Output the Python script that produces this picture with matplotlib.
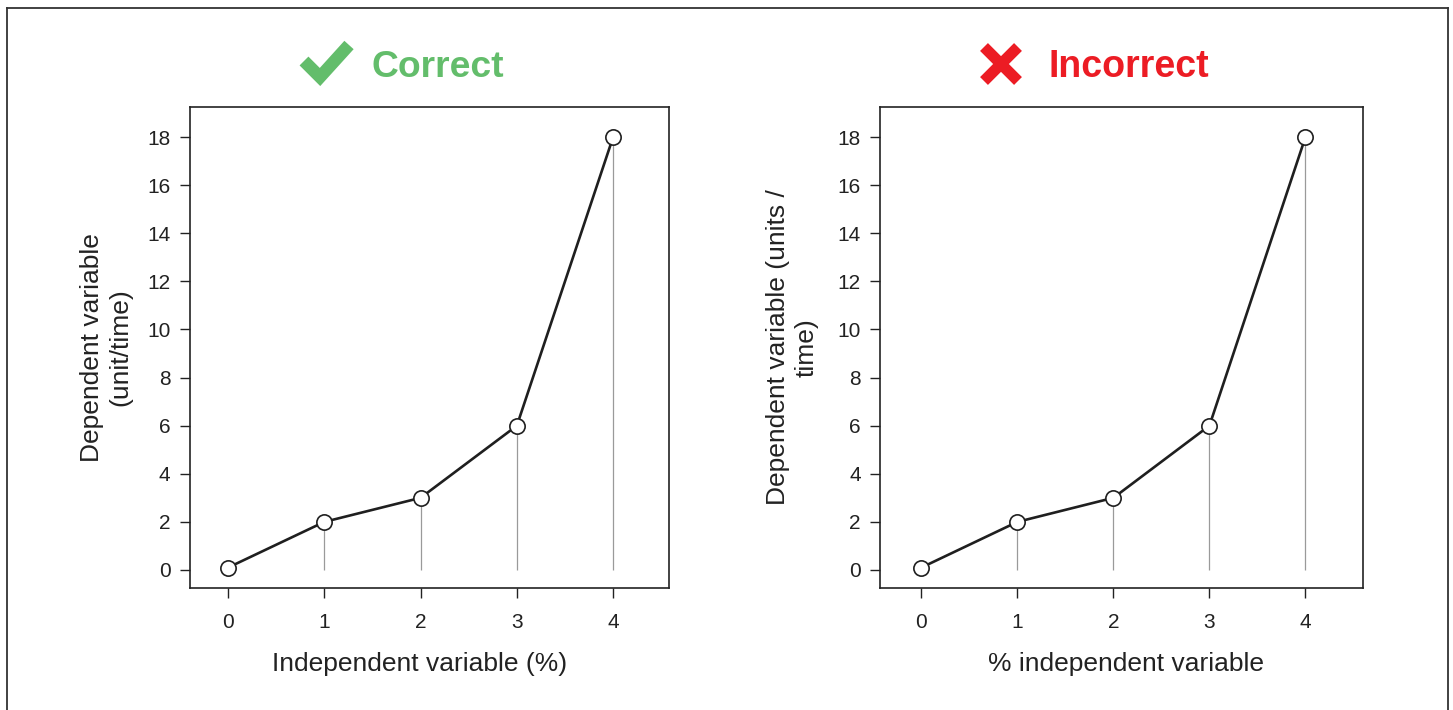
import numpy as np
import matplotlib.pyplot as plt
from matplotlib.lines import Line2D

plt.rcParams['font.family'] = ['Liberation Sans', 'DejaVu Sans']

# data
xs = [0, 1, 2, 3, 4]
ys = [0.1, 2, 3, 6, 18]
yticks = [0, 2, 4, 6, 8, 10, 12, 14, 16, 18]

titles = ["Correct", "Incorrect"]
title_colors = ["#63bd6b", "#ec1c24"]
xlabels = ["Independent variable (%)", "% independent variable"]
ylabels = ["Dependent variable\n(unit/time)", "Dependent variable (units /\ntime)"]

W, H = 1453, 710
fig = plt.figure(figsize=(W / 100, H / 100), dpi=100)


def px(x, y):
    # pixel position (from top-left) -> figure fraction
    return x / W, 1 - y / H


# outer frame (open at bottom)
frame_kw = dict(color="#333333", lw=1.3, transform=fig.transFigure)
fig.add_artist(Line2D([0.0048, 0.0048], [0, 0.9887], **frame_kw))
fig.add_artist(Line2D([0.0048, 0.9966], [0.9887, 0.9887], **frame_kw))
fig.add_artist(Line2D([0.9966, 0.9966], [0, 0.9887], **frame_kw))

axes_pos = [[0.1308, 0.1718, 0.3296, 0.6775],
            [0.6057, 0.1718, 0.3324, 0.6775]]
xlims = [(-0.395, 4.58), (-0.43, 4.6)]
ylab_x = [-0.121, -0.128]
xlab_x = [0.48, 0.509]

for i in range(2):
    ax = fig.add_axes(axes_pos[i])
    ax.vlines(xs[1:], 0, ys[1:], color="#9a9a9a", lw=0.9, zorder=1)
    ax.plot(xs, ys, color="#1f1f1f", lw=1.9, marker="o", ms=11,
            mfc="white", mec="#1f1f1f", mew=1.2, zorder=3)
    ax.set_xlim(*xlims[i])
    ax.set_ylim(-0.75, 19.25)
    ax.set_xticks(xs)
    ax.set_yticks(yticks)
    ax.tick_params(direction="out", length=7, width=1, colors="#222222",
                   labelsize=15)
    ax.tick_params(axis="x", pad=11)
    ax.tick_params(axis="y", pad=7)
    for s in ax.spines.values():
        s.set_linewidth(1.2)
        s.set_color("#222222")
    ax.set_xlabel(xlabels[i], fontsize=19, color="#222222")
    ax.set_ylabel(ylabels[i], fontsize=19, color="#222222")
    ax.xaxis.set_label_coords(xlab_x[i], -0.132)
    ax.yaxis.set_label_coords(ylab_x[i], 0.5)

# check mark icon
chk_x, chk_y = zip(px(304, 61), px(320, 77), px(349, 45))
fig.add_artist(Line2D(chk_x, chk_y, color=title_colors[0], lw=9,
                      solid_joinstyle="miter", solid_capstyle="butt",
                      transform=fig.transFigure))
# cross icon
for (a, b) in [((984, 47), (1018, 81)), ((1018, 47), (984, 81))]:
    lx, ly = zip(px(*a), px(*b))
    fig.add_artist(Line2D(lx, ly, color=title_colors[1], lw=8,
                          solid_capstyle="butt", transform=fig.transFigure))

fig.text(0.2560, 0.905, titles[0], color=title_colors[0], fontsize=26.8,
         fontweight="bold", ha="left", va="center")
fig.text(0.7213, 0.905, titles[1], color=title_colors[1], fontsize=27,
         fontweight="bold", ha="left", va="center")

fig.savefig("out.png", dpi=100)
